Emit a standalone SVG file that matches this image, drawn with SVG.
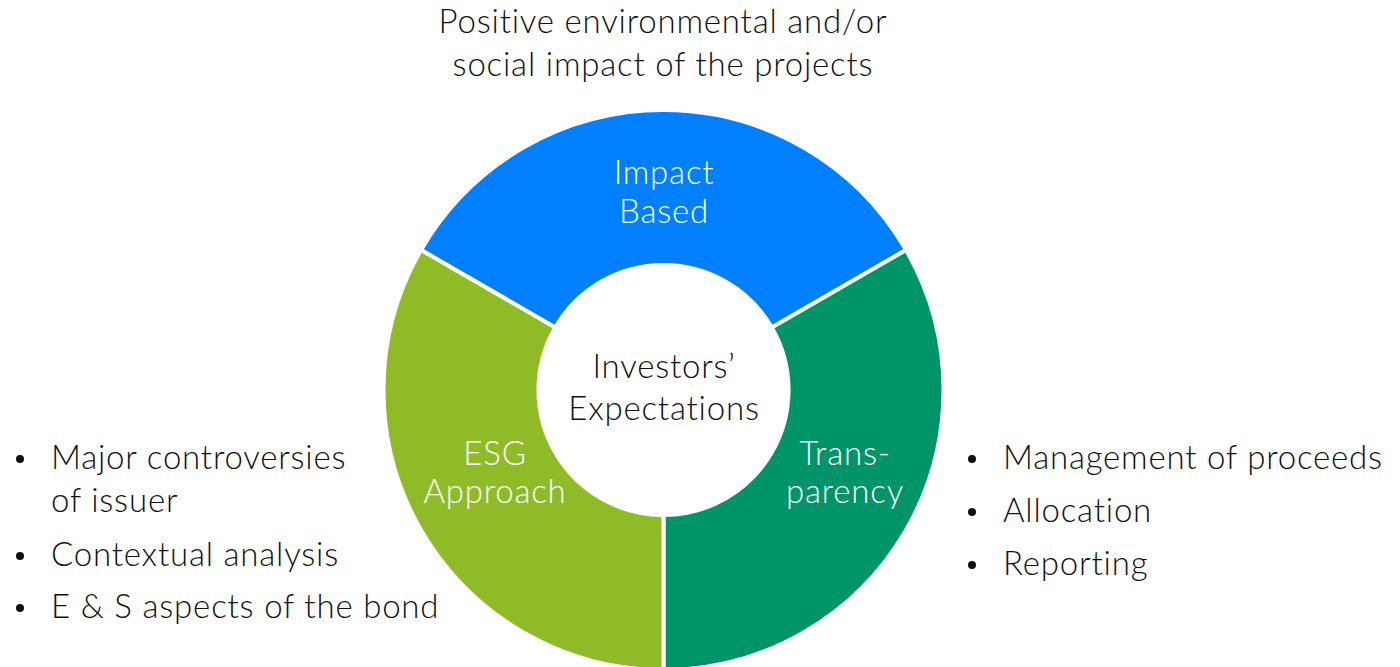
<svg xmlns="http://www.w3.org/2000/svg" width="1400" height="667" viewBox="0 0 1400 667">
  <style>
    .t { font-family: Lato, "Open Sans", "Liberation Sans", sans-serif; font-weight: 300; font-size: 33px; letter-spacing: 0.8px; }
    .dark { fill: #111111; }
    .light { fill: #ffffff; }
    .mid { text-anchor: middle; }
    .seg { stroke: #ffffff; stroke-width: 4; stroke-linejoin: miter; }
    .dot { fill: #111111; }
  </style>
  <rect width="1400" height="667" fill="#ffffff"/>

  <!-- heading above the ring -->
  <g id="heading">
    <text class="t dark mid" x="663" y="33">Positive environmental and/or</text>
    <text class="t dark mid" x="663" y="76">social impact of the projects</text>
  </g>

  <!-- ring centred at (663.5, 390), outer radius 280, inner radius 125 -->
  <g id="impact-based">
    <path class="seg" fill="#0080FF" d="M 421.0 250.0 A 280 280 0 0 1 906.0 250.0 L 771.8 327.5 A 125 125 0 0 0 555.2 327.5 Z"/>
    <text class="t light mid" x="664" y="184">Impact</text>
    <text class="t light mid" x="664" y="223">Based</text>
  </g>

  <g id="transparency">
    <path class="seg" fill="#009469" d="M 906.0 250.0 A 280 280 0 0 1 663.5 670 L 663.5 515 A 125 125 0 0 0 771.8 327.5 Z"/>
    <text class="t light mid" x="845" y="465">Trans-</text>
    <text class="t light mid" x="845" y="503">parency</text>
  </g>

  <g id="esg-approach">
    <path class="seg" fill="#8FBC26" d="M 663.5 670 A 280 280 0 0 1 421.0 250.0 L 555.2 327.5 A 125 125 0 0 0 663.5 515 Z"/>
    <text class="t light mid" x="495" y="465">ESG</text>
    <text class="t light mid" x="495" y="503">Approach</text>
  </g>

  <g id="investors-expectations">
    <text class="t dark mid" x="664" y="378">Investors’</text>
    <text class="t dark mid" x="664" y="420">Expectations</text>
  </g>

  <!-- bullet list beside the ESG segment -->
  <g id="esg-points">
    <circle class="dot" cx="20" cy="459" r="4"/>
    <text class="t dark" x="51" y="469">Major controversies</text>
    <text class="t dark" x="51" y="512">of issuer</text>
    <circle class="dot" cx="20" cy="556" r="4"/>
    <text class="t dark" x="51" y="566">Contextual analysis</text>
    <circle class="dot" cx="20" cy="608" r="4"/>
    <text class="t dark" x="51" y="618">E &amp; S aspects of the bond</text>
  </g>

  <!-- bullet list beside the transparency segment -->
  <g id="transparency-points">
    <circle class="dot" cx="972" cy="459" r="4"/>
    <text class="t dark" x="1003" y="469">Management of proceeds</text>
    <circle class="dot" cx="972" cy="512" r="4"/>
    <text class="t dark" x="1003" y="522">Allocation</text>
    <circle class="dot" cx="972" cy="565" r="4"/>
    <text class="t dark" x="1003" y="575">Reporting</text>
  </g>

  <g id="connectors"/>
</svg>
